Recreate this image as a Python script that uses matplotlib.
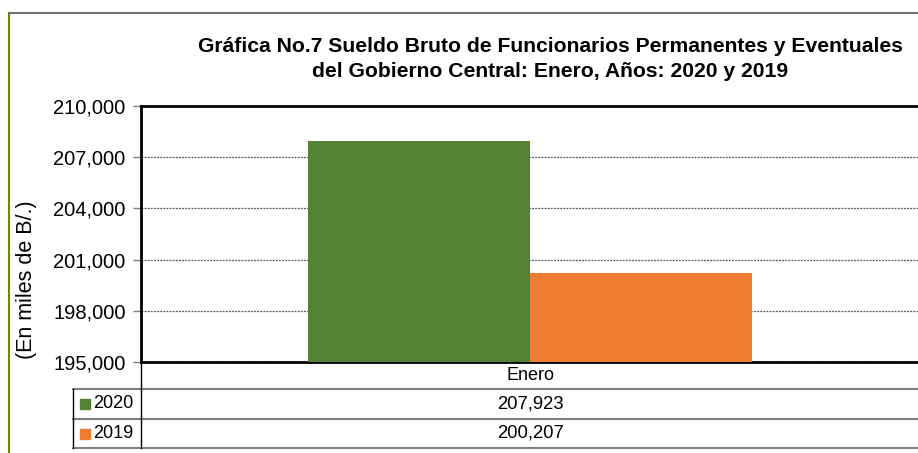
import matplotlib.pyplot as plt
from matplotlib.patches import Rectangle

plt.rcParams['font.family'] = ['Liberation Sans', 'DejaVu Sans']

# datos
categorias = ['Enero']
series = ['2020', '2019']
valores = [207923, 200207]
colores = ['#548235', '#ED7D31']
titulo = 'Gráfica No.7 Sueldo Bruto de Funcionarios Permanentes y Eventuales\ndel Gobierno Central: Enero, Años: 2020 y 2019'
yticks = [195000, 198000, 201000, 204000, 207000, 210000]

W, H = 918, 453
fig = plt.figure(figsize=(W / 100, H / 100), dpi=100)

def fx(px):
    return px / W

def fy(py):
    return 1 - py / H

# marco del gráfico
fig.add_artist(plt.Line2D([fx(9), fx(9)], [fy(13), fy(453)], color='#7F7F10', lw=1.5))
fig.add_artist(plt.Line2D([fx(9), 1], [fy(13), fy(13)], color='#707070', lw=1.5))

x0, x1, ytop, ybot = 141, 919, 106, 362
ax = fig.add_axes([fx(x0), fy(ybot), fx(x1 - x0), fy(ytop) - fy(ybot)])

ancho = 222 / (x1 - x0)
for i, (s, v, c) in enumerate(zip(series, valores, colores)):
    ax.bar(0 + (i - 0.5) * ancho, v - 195000, bottom=195000, width=ancho,
           color=c, zorder=3)

ax.set_xlim(-0.5, 0.5)
ax.set_ylim(195000, 210000)
ax.set_yticks(yticks)
ax.set_yticklabels(['{:,}'.format(t) for t in yticks], fontsize=14.5)
ax.set_xticks([])
ax.tick_params(axis='y', length=6, width=1, color='#808080', pad=5)
ax.grid(axis='y', color='#555555', linestyle=(0, (1.5, 1)), lw=0.9, zorder=1)
for sp in ax.spines.values():
    sp.set_linewidth(2)
    sp.set_color('black')

fig.text(fx(27), fy(280), '(En miles de B/.)', rotation=90, ha='center', va='center',
         fontsize=15.5)

fig.text(fx(550), fy(59), titulo, ha='center', va='center', fontsize=15.2,
         fontweight='bold', linespacing=1.45)

# tabla de datos
gris = '#7F7F7F'
filas = [362, 389, 419, 448]
for yy in filas[1:]:
    fig.add_artist(plt.Line2D([fx(73), 1], [fy(yy), fy(yy)], color=gris, lw=1.5))
fig.add_artist(plt.Line2D([fx(x0), fx(x0)], [fy(362), fy(448)], color='black', lw=1))
fig.add_artist(plt.Line2D([fx(73), fx(73)], [fy(389), fy(448)], color='black', lw=1))

fig.text(fx(530), fy(376), categorias[0], ha='center', va='center', fontsize=13)
for i, (s, v, c) in enumerate(zip(series, valores, colores)):
    yc = (filas[i + 1] + filas[i + 2]) / 2
    fig.add_artist(Rectangle((fx(80), fy(yc + 5)), fx(10), fy(0) - fy(10),
                             color=c, transform=fig.transFigure))
    fig.text(fx(93), fy(yc), s, ha='left', va='center', fontsize=13)
    fig.text(fx(530), fy(yc), '{:,}'.format(v), ha='center', va='center', fontsize=13.3)

fig.savefig('out.png', dpi=100)
